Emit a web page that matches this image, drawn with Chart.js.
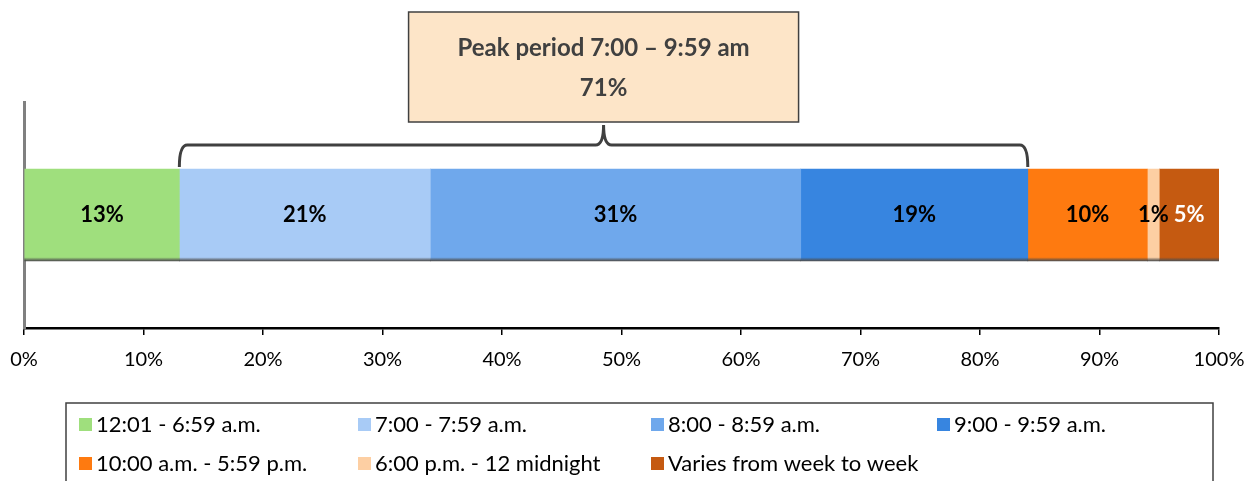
<!DOCTYPE html>
<html>
<head>
<meta charset="utf-8">
<script src="https://cdn.jsdelivr.net/npm/chart.js@4"></script>
<style>
  body { margin: 0; background: #fff; }
  #wrap { width: 1249px; height: 481px; position: relative; }
</style>
</head>
<body>
<div id="wrap"><canvas id="grafico"></canvas></div>
<script>
// dados
const faixas = ['12:01 - 6:59 a.m.', '7:00 - 7:59 a.m.', '8:00 - 8:59 a.m.', '9:00 - 9:59 a.m.',
  '10:00 a.m. - 5:59 p.m.', '6:00 p.m. - 12 midnight', 'Varies from week to week'];
const valores = [13, 21, 31, 19, 10, 1, 5];
const cores = ['#9fdf7d', '#a8cbf6', '#6fa8ec', '#3785e0', '#fe7a10', '#fdcfa3', '#c55a11'];
const coresTexto = ['#000', '#000', '#000', '#000', '#000', '#000', '#fff'];
const ticksX = [0, 10, 20, 30, 40, 50, 60, 70, 80, 90, 100];
const picoInicio = 1; // indice da primeira faixa do pico
const picoFim = 3;    // indice da ultima faixa do pico
const picoTexto = ['Peak period 7:00 \u2013 9:59 am', '71%'];

const fonte = 'Lato, "Noto Sans", sans-serif';

// gradiente pra dar o efeito 3d da barra
function corBarra(ctx, i) {
  const chart = ctx.chart;
  const y = chart.scales.y;
  if (!chart.chartArea || !y) return cores[i];
  const meio = y.getPixelForValue(0);
  const g = chart.ctx.createLinearGradient(0, meio - 46, 0, meio + 46);
  g.addColorStop(0, cores[i]);
  g.addColorStop(0.96, cores[i]);
  g.addColorStop(1, 'rgba(60,60,60,0.9)');
  return g;
}

const datasets = valores.map((v, i) => ({
  label: faixas[i],
  data: [v],
  backgroundColor: ctx => corBarra(ctx, i),
  borderWidth: 0,
  barThickness: 92
}));

// rotulos dentro da barra
const rotulos = {
  id: 'rotulos',
  afterDatasetsDraw(chart) {
    const ctx = chart.ctx;
    ctx.save();
    ctx.font = 'bold 22px ' + fonte;
    ctx.textAlign = 'center';
    ctx.textBaseline = 'middle';
    chart.data.datasets.forEach((ds, i) => {
      const el = chart.getDatasetMeta(i).data[0];
      ctx.fillStyle = coresTexto[i];
      ctx.fillText(ds.data[0] + '%', (el.x + el.base) / 2, el.y);
    });
    ctx.restore();
  }
};

// chave e caixa do periodo de pico
const chave = {
  id: 'chave',
  afterDatasetsDraw(chart) {
    const ctx = chart.ctx;
    const x = chart.scales.x;
    let ini = 0;
    for (let i = 0; i < picoInicio; i++) ini += valores[i];
    let fim = ini;
    for (let i = picoInicio; i <= picoFim; i++) fim += valores[i];
    const x1 = x.getPixelForValue(ini);
    const x2 = x.getPixelForValue(fim);
    const xm = (x1 + x2) / 2;
    const el = chart.getDatasetMeta(0).data[0];
    const base = el.y - el.height / 2 - 2;
    const yl = base - 22;
    const r = 8;
    ctx.save();
    ctx.strokeStyle = '#404040';
    ctx.lineWidth = 3;
    ctx.beginPath();
    ctx.moveTo(x1, base);
    ctx.quadraticCurveTo(x1, yl, x1 + r, yl);
    ctx.lineTo(xm - 8, yl);
    ctx.quadraticCurveTo(xm, yl, xm, yl - 20);
    ctx.quadraticCurveTo(xm, yl, xm + 8, yl);
    ctx.lineTo(x2 - r, yl);
    ctx.quadraticCurveTo(x2, yl, x2, base);
    ctx.stroke();

    const w = 390, top = 12, h = 110;
    ctx.fillStyle = '#fde5c8';
    ctx.fillRect(xm - w / 2, top, w, h);
    ctx.lineWidth = 1.5;
    ctx.strokeStyle = '#404040';
    ctx.strokeRect(xm - w / 2, top, w, h);
    ctx.fillStyle = '#404040';
    ctx.font = 'bold 24px ' + fonte;
    ctx.textAlign = 'center';
    ctx.textBaseline = 'middle';
    ctx.fillText(picoTexto[0], xm, top + 36);
    ctx.fillText(picoTexto[1], xm, top + 76);
    ctx.restore();
  }
};

// legenda em caixa, 4 colunas
const legenda = {
  id: 'legenda',
  afterDraw(chart) {
    const ctx = chart.ctx;
    const colX = [79, 358, 651, 937];
    const linY = [424, 463];
    ctx.save();
    ctx.strokeStyle = '#404040';
    ctx.lineWidth = 1.5;
    ctx.strokeRect(66, 403, 1147, 100);
    ctx.font = '22px ' + fonte;
    ctx.textBaseline = 'middle';
    ctx.textAlign = 'left';
    chart.data.datasets.forEach((ds, i) => {
      const cx = colX[i % 4];
      const cy = linY[Math.floor(i / 4)];
      ctx.fillStyle = cores[i];
      ctx.fillRect(cx, cy - 6, 13, 13);
      ctx.fillStyle = '#000';
      ctx.fillText(ds.label, cx + 17, cy + 1);
    });
    ctx.restore();
  }
};

new Chart(document.getElementById('grafico'), {
  type: 'bar',
  data: { labels: [''], datasets },
  plugins: [rotulos, chave, legenda],
  options: {
    indexAxis: 'y',
    responsive: true,
    maintainAspectRatio: false,
    animation: false,
    layout: { padding: { top: 102, left: 24, right: 30, bottom: 113 } },
    plugins: { legend: { display: false }, tooltip: { enabled: false } },
    scales: {
      x: {
        stacked: true,
        min: 0,
        max: 100,
        afterBuildTicks: s => { s.ticks = ticksX.map(v => ({ value: v })); },
        afterFit: s => { s.height = 40; s.paddingLeft = 0; s.paddingRight = 0; },
        ticks: { callback: v => v + '%', color: '#000', font: { family: fonte, size: 20 }, padding: 13, maxRotation: 0 },
        grid: { drawOnChartArea: false, drawTicks: true, tickLength: 7, color: '#000', lineWidth: 1.5 },
        border: { color: '#000', width: 2.5 }
      },
      y: {
        stacked: true,
        afterFit: s => { s.width = 0; },
        ticks: { display: false },
        grid: { display: false },
        border: { color: '#808080', width: 3 }
      }
    }
  }
});
</script>
</body>
</html>
